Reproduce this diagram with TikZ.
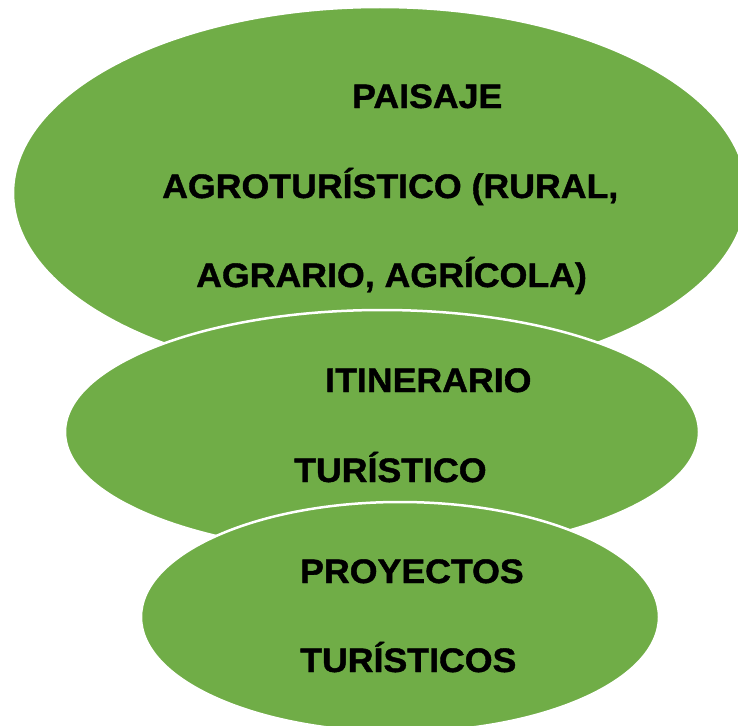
\documentclass[tikz,border=0pt]{standalone}
\usepackage{fontspec}
\setmainfont{Liberation Sans}
\newfontfamily\heavyfont{Liberation Sans Bold}[FakeStretch=1.05,FakeBold=1.2]
\usetikzlibrary{shapes.geometric}
\definecolor{leaf}{HTML}{70AD47}
\tikzset{
  blob/.style={ellipse,fill=leaf,draw=white,line width=2.5pt,inner sep=0pt},
  word/.style={anchor=base west,inner sep=0pt,font=\heavyfont\fontsize{34}{40}\selectfont}
}
\begin{document}
\begin{tikzpicture}[x=1pt,y=-1pt]
\useasboundingbox (0,0) rectangle (738,725);

\foreach \n/\x/\y/\w/\h in {paisaje/380/193/734/372, itinerario/382/432/634/244, proyectos/400/617/518/230}
  \node[blob,minimum width=\w pt,minimum height=\h pt] (\n) at (\x,\y) {};

\node[word] (l1) at (352,108) {PAISAJE};
\node[word] (l2) at (162,198) {AGROTURÍSTICO (RURAL,};
\node[word] (l3) at (196,287) {AGRARIO, AGRÍCOLA)};

\node[word] (l4) at (325,392) {ITINERARIO};
\node[word] (l5) at (294,482) {TURÍSTICO};

\node[word] (l6) at (300,583) {PROYECTOS};
\node[word] (l7) at (300,672) {TURÍSTICOS};
\end{tikzpicture}
\end{document}
